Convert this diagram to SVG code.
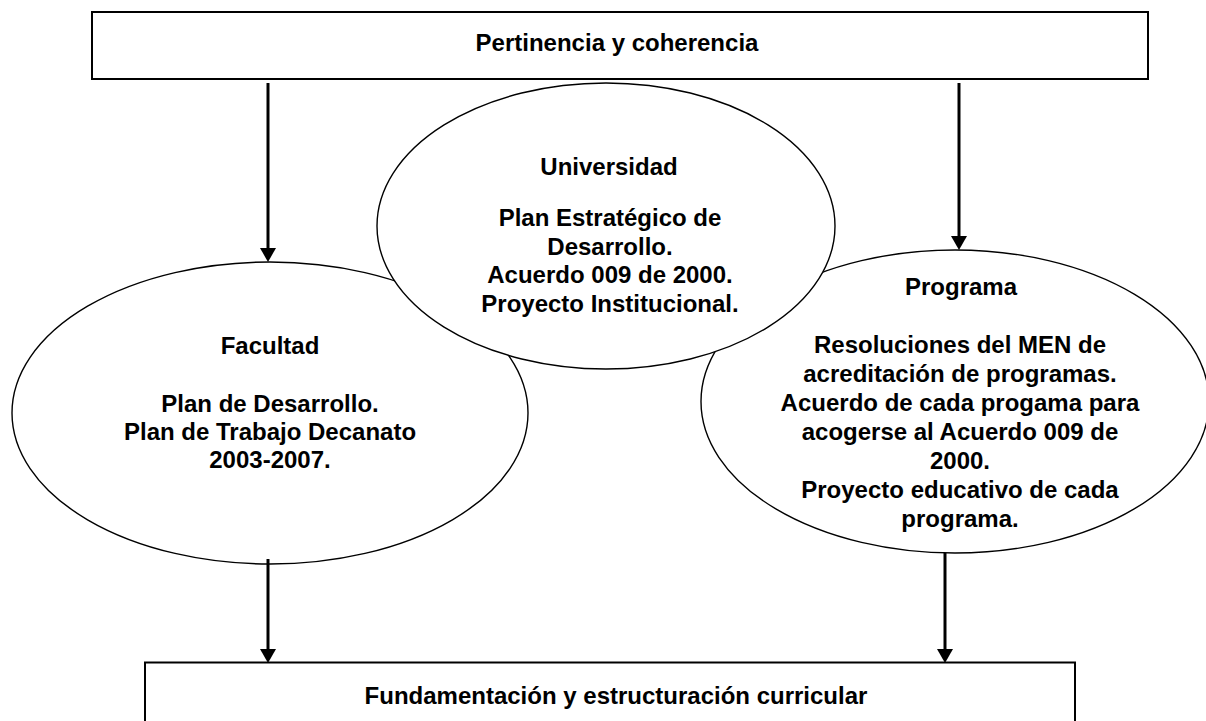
<svg xmlns="http://www.w3.org/2000/svg" width="1206" height="721" viewBox="0 0 1206 721">
<style>
.box{fill:#fff;stroke:#000;stroke-width:2}
.ell{fill:#fff;stroke:#000;stroke-width:1.4}
.t{font-family:"Liberation Sans",Arial,sans-serif;font-weight:bold;font-size:24px;fill:#000;text-anchor:middle}
.c{stroke:#000;stroke-width:3;fill:none;marker-end:url(#ah)}
</style>
<defs>
<marker id="ah" markerUnits="userSpaceOnUse" markerWidth="14" markerHeight="16" viewBox="0 0 14 16" refX="4" refY="8" orient="auto">
<path d="M0,0 L14,8 L0,16 z" fill="#000"/>
</marker>
</defs>
<rect width="1206" height="721" fill="#fff"/>
<g id="pertinencia">
<rect class="box" x="92" y="12" width="1056" height="67"/>
<text class="t" x="617" y="51">Pertinencia y coherencia</text>
</g>
<g id="fundamentacion">
<rect class="box" x="145" y="662.5" width="930" height="80"/>
<text class="t" x="616" y="704">Fundamentación y estructuración curricular</text>
</g>
<g id="facultad">
<ellipse class="ell" cx="270" cy="413" rx="258" ry="151"/>
<text class="t" x="270" y="354">Facultad</text>
<text class="t" x="270" y="412">Plan de Desarrollo.</text>
<text class="t" x="270" y="440">Plan de Trabajo Decanato</text>
<text class="t" x="270" y="468">2003-2007.</text>
</g>
<g id="programa">
<ellipse class="ell" cx="955" cy="401.5" rx="254" ry="151.5"/>
<text class="t" x="961" y="295">Programa</text>
<text class="t" x="960" y="353">Resoluciones del MEN de</text>
<text class="t" x="960" y="382">acreditación de programas.</text>
<text class="t" x="960" y="411">Acuerdo de cada progama para</text>
<text class="t" x="960" y="440">acogerse al Acuerdo 009 de</text>
<text class="t" x="960" y="469">2000.</text>
<text class="t" x="960" y="498">Proyecto educativo de cada</text>
<text class="t" x="960" y="527">programa.</text>
</g>
<g id="universidad">
<ellipse class="ell" cx="606" cy="226" rx="229" ry="143"/>
<text class="t" x="609" y="175">Universidad</text>
<text class="t" x="610" y="226">Plan Estratégico de</text>
<text class="t" x="610" y="255">Desarrollo.</text>
<text class="t" x="610" y="283">Acuerdo 009 de 2000.</text>
<text class="t" x="610" y="312">Proyecto Institucional.</text>
</g>
<g id="connectors">
<line class="c" x1="268" y1="83" x2="268" y2="252"/>
<line class="c" x1="959" y1="83" x2="959" y2="240"/>
<line class="c" x1="268" y1="559" x2="268" y2="653"/>
<line class="c" x1="945" y1="553" x2="945" y2="653"/>
</g>
</svg>
